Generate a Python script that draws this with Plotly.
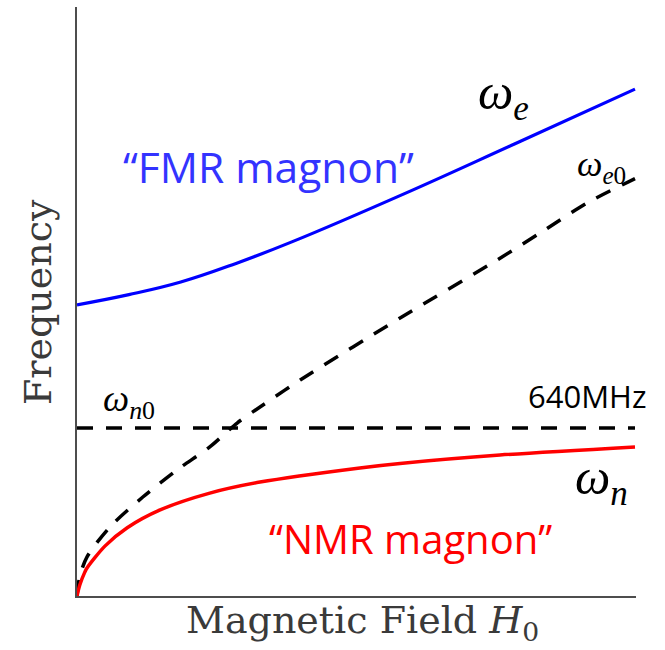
import plotly.graph_objects as go

# Magnetic field H0 (arbitrary units) and mode frequencies (MHz)
h_fmr = [0, 0.93, 1.86, 2.85, 3.85, 5.85, 7.84, 10]
f_fmr = [1109, 1148, 1196, 1267, 1349, 1531, 1722, 1931]

h_e0 = [0, 0.05, 0.18, 0.59, 1.18, 1.79, 2.38, 2.87, 3.28, 4.0, 5.79, 7.53, 8.30, 9.14, 10]
f_e0 = [0, 75, 149, 263, 377, 480, 568, 659, 720, 823, 1059, 1280, 1383, 1497, 1590]

h_n0 = [0, 10]
f_n0 = [640, 640]

h_nmr = [0, 0.05, 0.14, 0.18, 0.5, 0.90, 1.49, 2.38, 3.28, 5.07, 5.79, 7.58, 10]
f_nmr = [0, 42, 91, 107, 190, 260, 328, 392, 434, 488, 505, 537, 568]

W, H = 665, 650
ML, MR, MT, MB = 77, 29, 7, 54
x_max = 10 * (W - ML - MR) / 558
y_max = 640 * (H - MT - MB) / 168

fig = go.Figure()
fig.add_trace(go.Scatter(x=h_fmr, y=f_fmr, mode="lines",
                         line=dict(color="#0000ff", width=3.2, shape="spline", smoothing=1.2), hoverinfo="skip"))
fig.add_trace(go.Scatter(x=h_e0, y=f_e0, mode="lines",
                         line=dict(color="black", width=3.5, dash="16px,13px", shape="spline", smoothing=0.8), hoverinfo="skip"))
fig.add_trace(go.Scatter(x=h_n0, y=f_n0, mode="lines",
                         line=dict(color="black", width=3.5, dash="16px,13px"), hoverinfo="skip"))
fig.add_trace(go.Scatter(x=h_nmr, y=f_nmr, mode="lines",
                         line=dict(color="#ff0000", width=3.5, shape="spline", smoothing=0.8), hoverinfo="skip"))


def px_x(p):
    return (p - ML) / 558 * 10


def px_y(p):
    return (H - MB - p) * 640 / 168


labels = [
    ("<i>ω</i><sub><i>e</i></sub>", 503, 96, 50, "black", "Liberation Serif"),
    ("<i>ω</i><sub><i>e</i>0</sub>", 601, 166, 36, "black", "Liberation Serif"),
    ("<i>ω</i><sub><i>n</i>0</sub>", 129, 401, 37, "black", "Liberation Serif"),
    ("<i>ω</i><sub><i>n</i></sub>", 601, 481, 50, "black", "Liberation Serif"),
    ("640MHz", 587, 396, 31, "black", "Open Sans"),
    ("“FMR magnon”", 268, 166, 42.5, "#3333ff", "Open Sans"),
    ("“NMR magnon”", 410, 538, 40, "#ff0000", "Open Sans"),
]
for text, px, py, size, color, fam in labels:
    fig.add_annotation(x=px_x(px), y=px_y(py), text=text, showarrow=False,
                       xanchor="center", yanchor="middle",
                       font=dict(family=fam, size=size, color=color))

# axis titles
fig.add_annotation(xref="paper", yref="paper", x=(362 - ML) / (W - ML - MR), y=-(622 - (H - MB)) / (H - MT - MB),
                   text="Magnetic Field <i>H</i><sub>0</sub>", showarrow=False, xanchor="center", yanchor="middle",
                   font=dict(family="DejaVu Serif", size=38, color="#3a3a3a"))
fig.add_annotation(xref="paper", yref="paper", x=(38 - ML) / (W - ML - MR), y=((H - MB) - 302) / (H - MT - MB),
                   text="Frequency", textangle=-90, showarrow=False, xanchor="center", yanchor="middle",
                   font=dict(family="DejaVu Serif", size=38, color="#3a3a3a"))

axis_common = dict(showgrid=False, zeroline=False, showticklabels=False, ticks="",
                   showline=True, linecolor="#4d4d4d", linewidth=2, mirror=False, fixedrange=True)
fig.update_xaxes(range=[0, x_max], **axis_common)
fig.update_yaxes(range=[0, y_max], **axis_common)
fig.update_layout(width=W, height=H, margin=dict(l=ML, r=MR, t=MT, b=MB),
                  plot_bgcolor="white", paper_bgcolor="white", showlegend=False)

fig.write_html("out.html")
